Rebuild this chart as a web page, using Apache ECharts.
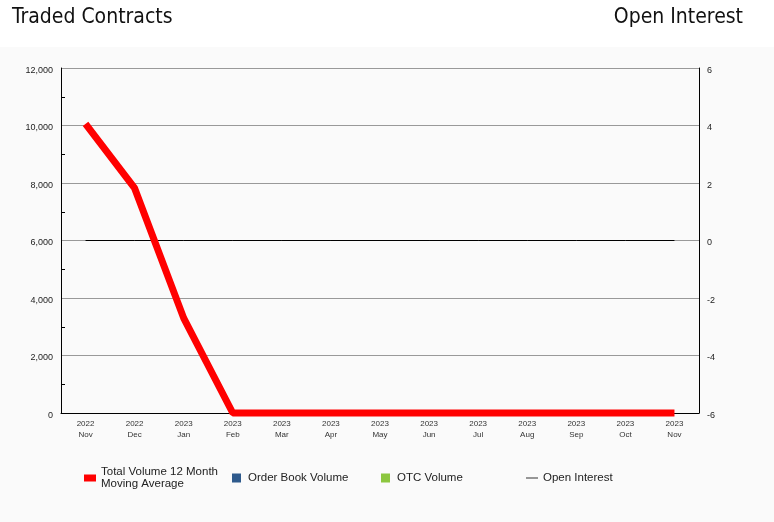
<!DOCTYPE html>
<html>
<head>
<meta charset="utf-8">
<script src="https://cdn.jsdelivr.net/npm/echarts@6/dist/echarts.min.js"></script>
<style>
  html, body { margin: 0; padding: 0; background: #fafafa; }
  #chart { width: 774px; height: 522px; }
</style>
</head>
<body>
<div id="chart"></div>
<script>
const months = ["2022\nNov", "2022\nDec", "2023\nJan", "2023\nFeb", "2023\nMar", "2023\nApr", "2023\nMay",
    "2023\nJun", "2023\nJul", "2023\nAug", "2023\nSep", "2023\nOct", "2023\nNov"];
const movingAverage = [10060, 7820, 3300, 0, 0, 0, 0, 0, 0, 0, 0, 0, 0];
const orderBookVolume = [0, 0, 0, 0, 0, 0, 0, 0, 0, 0, 0, 0, 0];
const otcVolume = [0, 0, 0, 0, 0, 0, 0, 0, 0, 0, 0, 0, 0];
const openInterest = [0, 0, 0, 0, 0, 0, 0, 0, 0, 0, 0, 0, 0];
// minor tick levels on the left axis (one per 2,000 band)
const minorTicks = ["1,000", "3,000", "5,000", "7,000", "9,000", "11,000"];

function legend_item(name, left, top, icon, w, h, gap) {
    return {
        data: [name],
        left: left,
        top: top,
        icon: icon,
        itemWidth: w,
        itemHeight: h,
        itemGap: 0,
        padding: 0,
        selectedMode: false,
        textStyle: {
            fontFamily: "Liberation Sans", fontSize: 11.5, color: "#222", lineHeight: 12,
            padding: [0, 0, 0, gap],
        },
    };
}

function render_chart() {
    const chart = echarts.init(document.getElementById("chart"), null, { renderer: "canvas" });
    const axisLabelFont = { fontFamily: "Liberation Sans", fontSize: 9, color: "#222", verticalAlign: "top", lineHeight: 5 };

    chart.setOption({
        animation: false,
        backgroundColor: "#fafafa",
        graphic: [
            { type: "rect", shape: { x: 0, y: 0, width: 774, height: 47 }, style: { fill: "#ffffff" }, z: -10 },
            { type: "text", left: 12, top: 7, style: { text: "Traded Contracts", fontFamily: "DejaVu Sans Condensed", fontSize: 21, fill: "#111" } },
            { type: "text", right: 31, top: 7, style: { text: "Open Interest", fontFamily: "DejaVu Sans Condensed", fontSize: 21, fill: "#111" } },
        ],
        grid: { left: 61, right: 75, top: 68, bottom: 109, containLabel: false },
        legend: [
            legend_item("Total Volume 12 Month\nMoving Average", 84, 466, "rect", 12, 7, 0),
            legend_item("Order Book Volume", 232, 472, "rect", 9, 9, 2),
            legend_item("OTC Volume", 381, 472, "rect", 9, 9, 2),
            legend_item("Open Interest", 526, 472, "path://M0,0 L12,0 L12,1 L0,1 Z", 12, 1, 0),
        ],
        xAxis: {
            type: "category",
            data: months,
            boundaryGap: true,
            axisLine: { lineStyle: { color: "#000", width: 1 } },
            axisTick: { show: false },
            axisLabel: { fontFamily: "Liberation Sans", fontSize: 8, color: "#333", lineHeight: 11, margin: 5, interval: 0 },
        },
        yAxis: [
            {
                type: "value",
                min: 0,
                max: 12000,
                interval: 2000,
                axisLine: { show: true, lineStyle: { color: "#000" } },
                axisTick: { show: false },
                splitLine: { show: true, lineStyle: { color: "#999", width: 1 } },
                axisLabel: Object.assign({ margin: 8, formatter: (v) => v.toLocaleString("en-US") }, axisLabelFont),
            },
            {
                type: "value",
                min: -6,
                max: 6,
                interval: 2,
                position: "right",
                axisLine: { show: true, lineStyle: { color: "#000" } },
                axisTick: { show: false },
                splitLine: { show: false },
                axisLabel: Object.assign({ margin: 8 }, axisLabelFont),
            },
            {
                type: "category",
                data: minorTicks,
                position: "left",
                boundaryGap: true,
                axisLine: { show: false },
                axisTick: { show: true, inside: true, alignWithLabel: true, length: 4, lineStyle: { color: "#000" } },
                axisLabel: { show: false },
                splitLine: { show: false },
            },
        ],
        series: [
            {
                name: "Order Book Volume",
                type: "bar",
                stack: "vol",
                data: orderBookVolume,
                itemStyle: { color: "#2e5a8c" },
            },
            {
                name: "OTC Volume",
                type: "bar",
                stack: "vol",
                data: otcVolume,
                itemStyle: { color: "#8cc63f" },
            },
            {
                name: "Total Volume 12 Month\nMoving Average",
                type: "line",
                data: movingAverage,
                symbol: "none",
                clip: false,
                z: 5,
                lineStyle: { color: "#ff0000", width: 7 },
                itemStyle: { color: "#ff0000" },
            },
            {
                name: "Open Interest",
                type: "line",
                yAxisIndex: 1,
                data: openInterest,
                symbol: "none",
                z: 4,
                lineStyle: { color: "#000", width: 1 },
                itemStyle: { color: "#333" },
            },
        ],
    });
}

window.addEventListener("load", render_chart);
</script>
</body>
</html>
